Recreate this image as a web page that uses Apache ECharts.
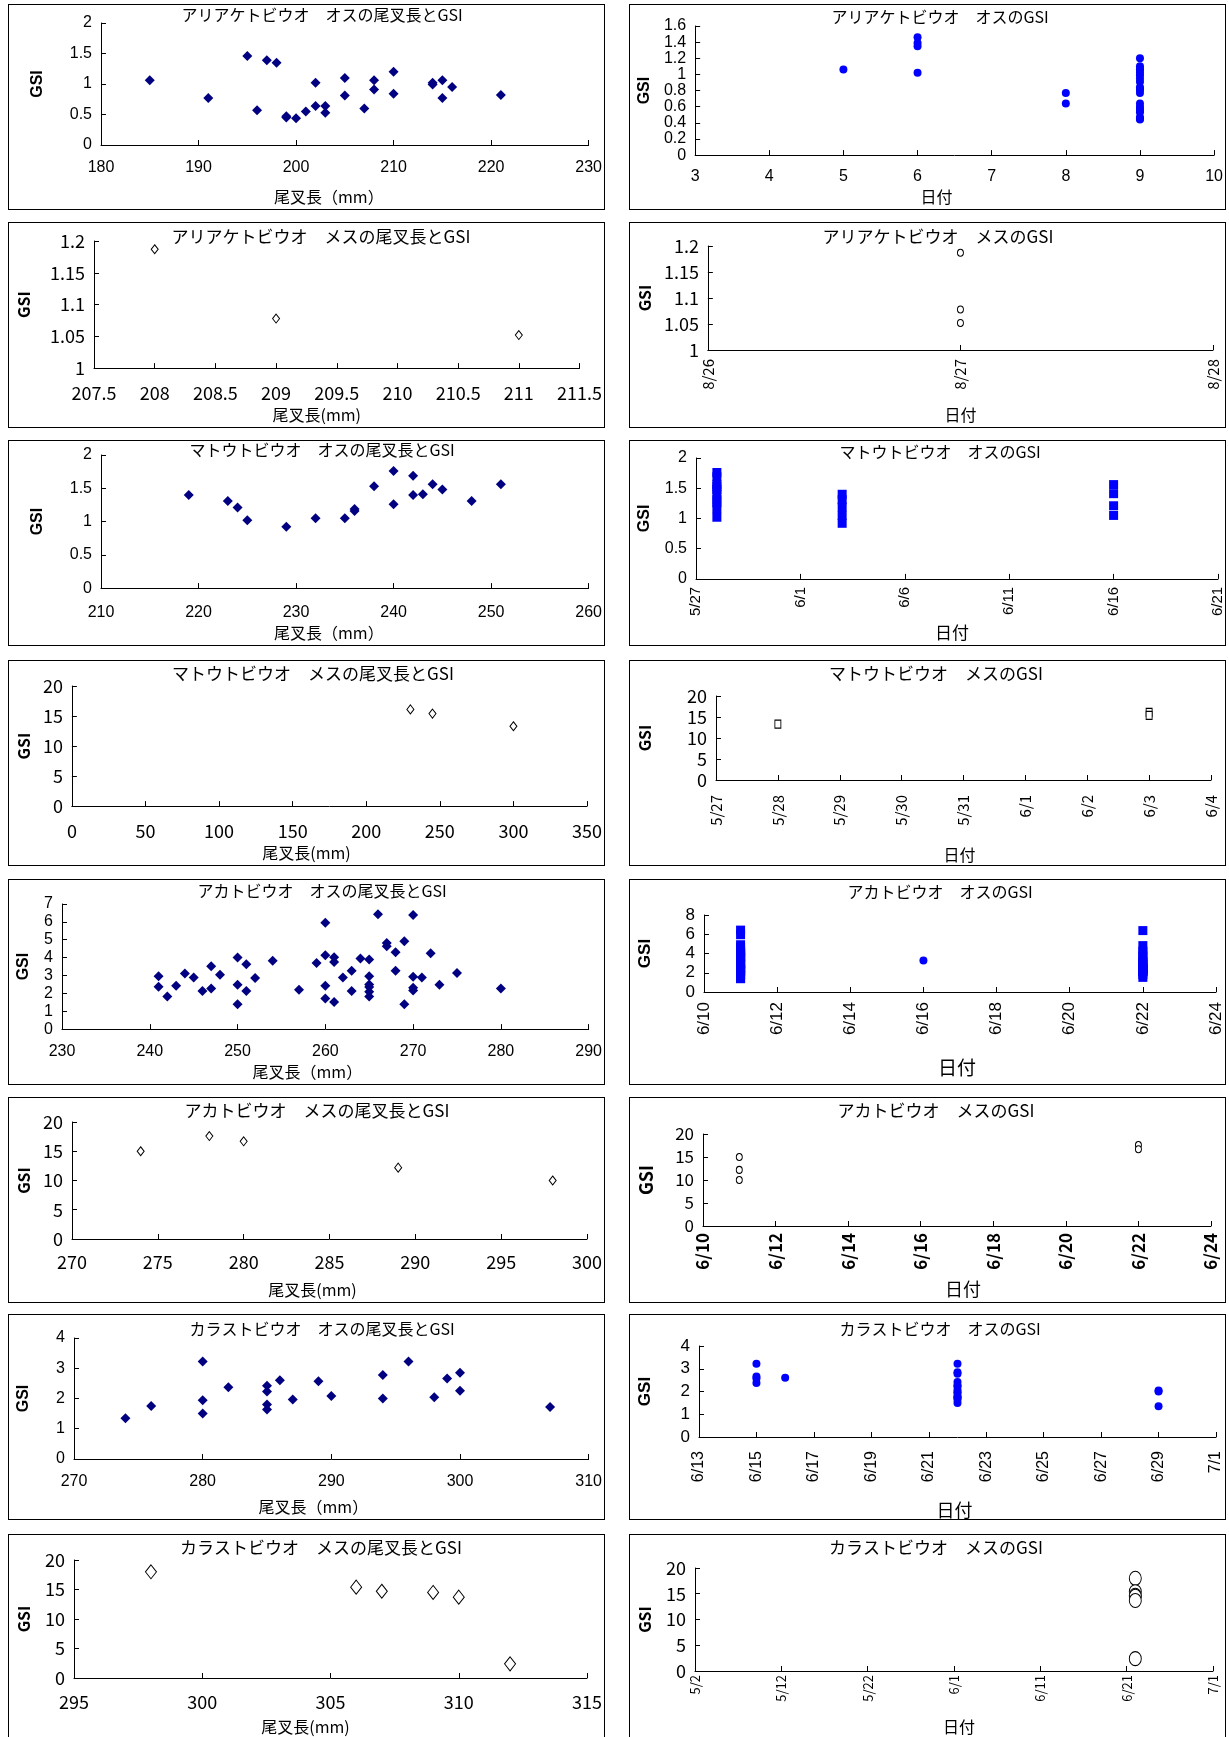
<!DOCTYPE html>
<html>
<head>
<meta charset="utf-8">
<title>トビウオ類の尾叉長とGSI</title>
<script src="https://cdn.jsdelivr.net/npm/echarts@6/dist/echarts.min.js"></script>
<style>
  html, body { margin: 0; padding: 0; background: #fff; }
  body { width: 1229px; height: 1737px; position: relative; overflow: hidden; }
  .panel { position: absolute; width: 597px; height: 206px; box-sizing: border-box; border: 1px solid #000; background: #fff; }
  .panel > div { position: absolute; left: -1px; top: -1px; width: 597px; height: 206px; }
</style>
</head>
<body>
<script>
// ---------- data ----------
// アリアケトビウオ オス
const ariakeMaleLength = [185, 191, 195, 196, 197, 198, 199, 199, 200, 201, 202, 202, 203, 203, 205, 205, 207, 208, 208, 210, 210, 214, 214, 215, 215, 216, 221];
const ariakeMaleGsi = [1.06, 0.77, 1.46, 0.57, 1.39, 1.35, 0.47, 0.45, 0.44, 0.55, 1.02, 0.64, 0.64, 0.53, 1.10, 0.81, 0.60, 1.06, 0.91, 1.20, 0.84, 1.02, 0.99, 1.06, 0.77, 0.95, 0.82];
const ariakeMaleDay = [5, 6, 6, 6, 6, 8, 8, 9, 9, 9, 9, 9, 9, 9, 9, 9, 9, 9, 9, 9, 9, 9, 9, 9, 9, 9, 9];
const ariakeMaleDayGsi = [1.06, 1.46, 1.39, 1.35, 1.02, 0.77, 0.64, 0.57, 0.47, 0.45, 0.44, 0.55, 0.64, 0.53, 1.10, 0.81, 0.60, 1.06, 0.91, 1.20, 0.84, 1.02, 0.99, 1.06, 0.77, 0.95, 0.82];

// アリアケトビウオ メス
const ariakeFemaleLength = [208, 209, 211];
const ariakeFemaleGsi = [1.187, 1.078, 1.052];
const ariakeFemaleDate = ['8/27', '8/27', '8/27'];
const ariakeFemaleDateTicks = ['8/26', '8/27', '8/28'];

// マトウトビウオ オス
const matoMaleLength = [219, 223, 224, 225, 229, 232, 235, 236, 236, 238, 240, 240, 242, 242, 243, 244, 245, 248, 251];
const matoMaleGsi = [1.40, 1.31, 1.21, 1.02, 0.92, 1.05, 1.05, 1.19, 1.16, 1.53, 1.76, 1.26, 1.69, 1.40, 1.41, 1.56, 1.48, 1.31, 1.56];
const matoMaleDate = ['5/28', '5/28', '5/28', '5/28', '5/28', '5/28', '5/28', '5/28', '5/28', '5/28',
                      '6/3', '6/3', '6/3', '6/3', '6/3', '6/16', '6/16', '6/16', '6/16'];
const matoMaleDateGsi = [1.02, 1.16, 1.26, 1.31, 1.40, 1.48, 1.53, 1.56, 1.69, 1.76,
                         0.92, 1.05, 1.19, 1.31, 1.40, 1.05, 1.21, 1.41, 1.56];
const matoMaleDateTicks = ['5/27', '6/1', '6/6', '6/11', '6/16', '6/21'];

// マトウトビウオ メス
const matoFemaleLength = [230, 245, 300];
const matoFemaleGsi = [16.1, 15.4, 13.3];
const matoFemaleDate = ['6/3', '6/3', '5/28'];
const matoFemaleDateTicks = ['5/27', '5/28', '5/29', '5/30', '5/31', '6/1', '6/2', '6/3', '6/4'];

// アカトビウオ オス
const akaMaleLength = [241, 241, 242, 243, 244, 245, 246, 247, 247, 248, 250, 250, 250, 251, 251, 252, 254, 257, 259, 260,
                       260, 260, 260, 261, 261, 261, 262, 263, 263, 264, 265, 265, 265, 265, 265, 265, 266, 267, 267, 268,
                       268, 269, 269, 270, 270, 270, 270, 271, 272, 273, 275, 280];
const akaMaleGsi = [2.96, 2.37, 1.82, 2.43, 3.11, 2.89, 2.13, 3.52, 2.27, 3.04, 4.00, 2.48, 1.39, 3.63, 2.13, 2.86, 3.82, 2.20, 3.70, 5.95,
                    4.13, 2.43, 1.71, 4.02, 3.75, 1.52, 2.89, 3.27, 2.13, 3.95, 3.89, 2.96, 2.50, 2.36, 2.09, 1.82, 6.43, 4.82, 4.64, 4.30,
                    3.27, 4.91, 1.39, 6.38, 2.93, 2.32, 2.16, 2.89, 4.25, 2.48, 3.14, 2.27];
const akaMaleDate = ['6/11', '6/11', '6/11', '6/11', '6/11', '6/11', '6/11', '6/11', '6/11', '6/11',
                     '6/11', '6/11', '6/11', '6/11', '6/11', '6/11', '6/11', '6/11', '6/11', '6/11',
                     '6/11', '6/11', '6/11', '6/11', '6/11', '6/11', '6/11', '6/11', '6/11', '6/11',
                     '6/16',
                     '6/22', '6/22', '6/22', '6/22', '6/22', '6/22', '6/22', '6/22', '6/22', '6/22',
                     '6/22', '6/22', '6/22', '6/22', '6/22', '6/22', '6/22', '6/22', '6/22', '6/22', '6/22'];
const akaMaleDateGsi = [6.43, 5.95, 4.91, 4.64, 4.30, 4.13, 4.02, 4.00, 3.95, 3.82,
                        3.70, 3.63, 3.52, 3.11, 3.04, 2.96, 2.96, 2.89, 2.86, 2.48,
                        2.43, 2.37, 2.27, 2.20, 2.13, 2.13, 1.82, 1.71, 1.39, 1.39,
                        3.27,
                        6.38, 4.82, 4.25, 3.89, 3.75, 3.27, 3.14, 2.93, 2.89, 2.89,
                        2.50, 2.48, 2.43, 2.36, 2.32, 2.27, 2.16, 2.13, 2.09, 1.82, 1.52];
const akaDateTicks = ['6/10', '6/12', '6/14', '6/16', '6/18', '6/20', '6/22', '6/24'];

// アカトビウオ メス
const akaFemaleLength = [274, 278, 280, 289, 298];
const akaFemaleGsi = [15.0, 17.6, 16.7, 12.2, 10.0];
const akaFemaleDate = ['6/11', '6/22', '6/22', '6/11', '6/11'];

// カラストビウオ オス
const karasuMaleLength = [274, 276, 280, 280, 280, 282, 285, 285, 285, 285, 286, 287, 289, 290, 294, 294, 296, 298, 299, 300, 300, 307];
const karasuMaleGsi = [1.35, 1.75, 3.22, 1.94, 1.50, 2.37, 2.42, 2.23, 1.80, 1.64, 2.60, 1.97, 2.57, 2.08, 2.78, 2.00, 3.22, 2.04, 2.66, 2.85, 2.26, 1.72];
const karasuMaleDate = ['6/15', '6/15', '6/15', '6/15', '6/16',
                        '6/22', '6/22', '6/22', '6/22', '6/22', '6/22', '6/22', '6/22', '6/22', '6/22', '6/22', '6/22', '6/22', '6/22',
                        '6/29', '6/29', '6/29'];
const karasuMaleDateGsi = [3.22, 2.66, 2.57, 2.37, 2.60,
                           3.22, 2.85, 2.78, 2.42, 2.26, 2.23, 2.08, 1.97, 1.94, 1.80, 1.75, 1.72, 1.64, 1.50,
                           2.04, 2.00, 1.35];
const karasuMaleDateTicks = ['6/13', '6/15', '6/17', '6/19', '6/21', '6/23', '6/25', '6/27', '6/29', '7/1'];

// カラストビウオ メス
const karasuFemaleLength = [298, 306, 307, 309, 310, 312];
const karasuFemaleGsi = [18.0, 15.4, 14.7, 14.5, 13.7, 2.4];
const karasuFemaleDate = ['6/22', '6/22', '6/22', '6/22', '6/22', '6/22'];
const karasuFemaleDateTicks = ['5/2', '5/12', '5/22', '6/1', '6/11', '6/21', '7/1'];

// ---------- helpers ----------
const MONTH_START = [0, 31, 59, 90, 120, 151, 181, 212, 243, 273, 304, 334];
function dayOfYear(md) {
  const [m, d] = md.split('/').map(Number);
  return MONTH_START[m - 1] + d;
}
function pairs(xs, ys) { return xs.map((x, i) => [x, ys[i]]); }
// dates become whole days after the first tick of the axis
function datePairs(dates, ys, ticks) {
  const base = dayOfYear(ticks[0]);
  return dates.map((d, i) => [dayOfYear(d) - base, ys[i]]);
}
function dateAxis(ticks) {
  const base = dayOfYear(ticks[0]);
  const step = dayOfYear(ticks[1]) - base;
  return {
    min: 0, max: dayOfYear(ticks[ticks.length - 1]) - base, interval: step,
    formatter: v => ticks[Math.round(v / step)] || ''
  };
}

const MODERN = "'Liberation Sans', Arial, 'Noto Sans CJK JP', sans-serif";
const NARROW = "'Liberation Sans Narrow', 'Arial Narrow', 'Noto Sans CJK JP', sans-serif";
const CJK = "'Noto Sans CJK JP', sans-serif";

const NAVY_DIAMOND = { symbol: 'diamond', size: [10, 10], color: '#000080' };
const BLUE_DOT = { symbol: 'circle', size: 8, color: '#0000ff' };
const BLUE_SQUARE = { symbol: 'rect', size: 9, color: '#0000ff' };
const OPEN_DIAMOND = { symbol: 'diamond', size: [7, 9], hollow: true };
const OPEN_CIRCLE = { symbol: 'circle', size: [6, 7], hollow: true };
const OPEN_SQUARE = { symbol: 'rect', size: [6, 8], hollow: true };

// ---------- panel layouts ----------
const LEFT = 8, RIGHT = 629, ROWS = [4, 222, 440, 660, 879, 1097, 1314, 1534];

const panels = [
  { x: LEFT, y: ROWS[0], style: 'modern', title: 'アリアケトビウオ　オスの尾叉長とGSI', tx: 314, ty: 3,
    grid: [93, 14, 19, 62], xAxis: { min: 180, max: 230, interval: 10 }, yAxis: { min: 0, max: 2, interval: 0.5 },
    xName: '尾叉長（mm）', xGap: 44, xShift: -16, yGap: 55, xMargin: 15,
    data: pairs(ariakeMaleLength, ariakeMaleGsi), mark: NAVY_DIAMOND },
  { x: RIGHT, y: ROWS[0], style: 'modern', title: 'アリアケトビウオ　オスのGSI', tx: 311, ty: 5,
    grid: [53, 10, 22, 42], xAxis: { min: 3, max: 10, interval: 1 }, yAxis: { min: 0, max: 1.6, interval: 0.2 },
    xName: '日付', xNameSize: 16, xGap: 23, xShift: -18, yGap: 33, xMargin: 13,
    data: pairs(ariakeMaleDay, ariakeMaleDayGsi), mark: BLUE_DOT },

  { x: LEFT, y: ROWS[1], style: 'narrow', title: 'アリアケトビウオ　メスの尾叉長とGSI', tx: 313, ty: 6,
    grid: [83, 21, 19, 53], xAxis: { min: 207.5, max: 211.5, interval: 0.5 }, yAxis: { min: 1, max: 1.2, interval: 0.05 },
    xName: '尾叉長(mm)', xGap: 34, xShift: -20, yGap: 62, xMargin: 16,
    data: pairs(ariakeFemaleLength, ariakeFemaleGsi), mark: OPEN_DIAMOND },
  { x: RIGHT, y: ROWS[1], style: 'narrow', title: 'アリアケトビウオ　メスのGSI', tx: 309, ty: 6,
    grid: [67, 13, 24, 76], dates: ariakeFemaleDateTicks, yAxis: { min: 1, max: 1.2, interval: 0.05 },
    xName: '日付', xGap: 57, xShift: 0, yGap: 50, xMargin: 9,
    data: datePairs(ariakeFemaleDate, ariakeFemaleGsi, ariakeFemaleDateTicks), mark: OPEN_CIRCLE },

  { x: LEFT, y: ROWS[2], style: 'modern', title: 'マトウトビウオ　オスの尾叉長とGSI', tx: 314, ty: 2,
    grid: [93, 14, 15, 53], xAxis: { min: 210, max: 260, interval: 10 }, yAxis: { min: 0, max: 2, interval: 0.5 },
    xName: '尾叉長（mm）', xGap: 35, xShift: -16, yGap: 55, xMargin: 16,
    data: pairs(matoMaleLength, matoMaleGsi), mark: NAVY_DIAMOND },
  { x: RIGHT, y: ROWS[2], style: 'modern', title: 'マトウトビウオ　オスのGSI', tx: 311, ty: 4,
    grid: [63, 8, 18, 57], dates: matoMaleDateTicks, yAxis: { min: 0, max: 2, interval: 0.5 },
    xName: '日付', xNameSize: 17, xGap: 38, xShift: -5, yGap: 43, xMargin: 8, dateSize: 15,
    data: datePairs(matoMaleDate, matoMaleDateGsi, matoMaleDateTicks), mark: BLUE_SQUARE },

  { x: LEFT, y: ROWS[3], style: 'narrow', title: 'マトウトビウオ　メスの尾叉長とGSI', tx: 305, ty: 5,
    grid: [60, 14, 26, 52], xAxis: { min: 0, max: 350, interval: 50 }, yAxis: { min: 0, max: 20, interval: 5 },
    xName: '尾叉長(mm)', xGap: 35, xShift: -23, yGap: 39, xMargin: 16,
    data: pairs(matoFemaleLength, matoFemaleGsi), mark: OPEN_DIAMOND },
  { x: RIGHT, y: ROWS[3], style: 'narrow', title: 'マトウトビウオ　メスのGSI', tx: 307, ty: 5,
    grid: [80, 15, 36, 86], dates: matoFemaleDateTicks, yAxis: { min: 0, max: 20, interval: 5 },
    xName: '日付', xGap: 67, xShift: -4, yGap: 63, xMargin: 15,
    data: datePairs(matoFemaleDate, matoFemaleGsi, matoFemaleDateTicks), mark: OPEN_SQUARE },

  { x: LEFT, y: ROWS[4], style: 'modern', title: 'アカトビウオ　オスの尾叉長とGSI', tx: 314, ty: 4,
    grid: [49, 14, 25, 50], xAxis: { min: 230, max: 290, interval: 10 }, yAxis: { min: 0, max: 7, interval: 1 },
    xName: '尾叉長（mm）', xGap: 31, xShift: -18, yGap: 30, xMargin: 14,
    data: pairs(akaMaleLength, akaMaleGsi), mark: NAVY_DIAMOND },
  { x: RIGHT, y: ROWS[4], style: 'modern', title: 'アカトビウオ　オスのGSI', tx: 311, ty: 5,
    grid: [74, 10, 36, 93], dates: akaDateTicks, yAxis: { min: 0, max: 8, interval: 2 },
    xName: '日付', xNameSize: 19, xGap: 66, xShift: -3, yGap: 50, yNameSize: 17, xMargin: 10, dateSize: 17, ySize: 17,
    data: datePairs(akaMaleDate, akaMaleDateGsi, akaDateTicks), mark: BLUE_SQUARE,
    markFor: d => (d === '6/16' ? 'circle' : 'rect'), markDates: akaMaleDate },

  { x: LEFT, y: ROWS[5], style: 'narrow', title: 'アカトビウオ　メスの尾叉長とGSI', tx: 309, ty: 5,
    grid: [61, 16, 25, 61], xAxis: { min: 270, max: 300, interval: 5 }, yAxis: { min: 0, max: 20, interval: 5 },
    xName: '尾叉長(mm)', xGap: 43, xShift: -17, yGap: 40, xMargin: 14,
    data: pairs(akaFemaleLength, akaFemaleGsi), mark: OPEN_DIAMOND },
  { x: RIGHT, y: ROWS[5], style: 'narrow', title: 'アカトビウオ　メスのGSI', tx: 307, ty: 5,
    grid: [67, 15, 37, 77], dates: akaDateTicks, yAxis: { min: 0, max: 20, interval: 5 },
    xName: '日付', xNameSize: 18, xGap: 54, xShift: 6, yGap: 48, yNameSize: 18, xMargin: 7, dateBold: true, dateSize: 17, ySize: 17,
    data: datePairs(akaFemaleDate, akaFemaleGsi, akaDateTicks), mark: OPEN_CIRCLE },

  { x: LEFT, y: ROWS[6], style: 'modern', title: 'カラストビウオ　オスの尾叉長とGSI', tx: 314, ty: 7,
    grid: [65, 14, 24, 57], xAxis: { min: 270, max: 310, interval: 10 }, yAxis: { min: 0, max: 4, interval: 1 },
    xName: '尾叉長（mm）', xGap: 40, xShift: -18, yGap: 42, xMargin: 15,
    data: pairs(karasuMaleLength, karasuMaleGsi), mark: NAVY_DIAMOND },
  { x: RIGHT, y: ROWS[6], style: 'modern', title: 'カラストビウオ　オスのGSI', tx: 311, ty: 7,
    grid: [69, 10, 32, 82], dates: karasuMaleDateTicks, yAxis: { min: 0, max: 4, interval: 1 },
    xName: '日付', xNameSize: 18, xGap: 64, xShift: -3, yGap: 45, yNameSize: 17, xMargin: 14, dateSize: 16, ySize: 17,
    data: datePairs(karasuMaleDate, karasuMaleDateGsi, karasuMaleDateTicks), mark: BLUE_DOT },

  { x: LEFT, y: ROWS[7], style: 'narrow', title: 'カラストビウオ　メスの尾叉長とGSI', tx: 313, ty: 5,
    grid: [63, 14, 26, 59], xAxis: { min: 295, max: 315, interval: 5 }, yAxis: { min: 0, max: 20, interval: 5 },
    xName: '尾叉長(mm)', xGap: 41, xShift: -25, yGap: 42, xMargin: 15,
    data: pairs(karasuFemaleLength, karasuFemaleGsi), mark: { symbol: 'diamond', size: [11, 14], hollow: true } },
  { x: RIGHT, y: ROWS[7], style: 'narrow', title: 'カラストビウオ　メスのGSI', tx: 307, ty: 5,
    grid: [59, 13, 34, 66], dates: karasuFemaleDateTicks, yAxis: { min: 0, max: 20, interval: 5 },
    xName: '日付', xGap: 48, xShift: 5, yGap: 42, xMargin: 4, dateSize: 13,
    data: datePairs(karasuFemaleDate, karasuFemaleGsi, karasuFemaleDateTicks), mark: { symbol: 'circle', size: [12, 14], hollow: true } }
];

// ---------- drawing ----------
function buildOption(p) {
  const narrow = p.style === 'narrow';
  const labelFont = narrow ? NARROW : MODERN;
  const tickSize = narrow ? 18 : 16;
  const axisLine = { show: true, onZero: false, lineStyle: { color: '#000', width: 1 } };
  const axisTick = { show: true, inside: true, length: 5, lineStyle: { color: '#000', width: 1 } };

  let xAxis;
  if (p.dates) {
    const d = dateAxis(p.dates);
    xAxis = {
      type: 'value', min: d.min, max: d.max, interval: d.interval,
      axisLabel: { rotate: 90, formatter: d.formatter, color: '#000', fontFamily: labelFont,
                   fontSize: p.dateSize || 15, fontWeight: p.dateBold ? 'bold' : 'normal',
                   margin: p.xMargin, showMinLabel: true, showMaxLabel: true, hideOverlap: false }
    };
  } else {
    xAxis = {
      type: 'value', min: p.xAxis.min, max: p.xAxis.max, interval: p.xAxis.interval,
      axisLabel: { color: '#000', fontFamily: labelFont, fontSize: tickSize, margin: p.xMargin,
                   showMinLabel: true, showMaxLabel: true, hideOverlap: false }
    };
  }
  const xNameSize = p.xNameSize || 16;
  const pad = p.xShift < 0 ? [0, -2 * p.xShift, 0, 0] : [0, 0, 0, 2 * p.xShift];
  Object.assign(xAxis, {
    name: p.xName, nameLocation: 'middle', nameGap: p.xGap,
    nameTextStyle: { color: '#000', fontFamily: narrow ? NARROW : CJK, fontSize: xNameSize, padding: pad },
    axisLine, axisTick, splitLine: { show: false }
  });

  const yNameSize = p.yNameSize || 16;
  const yAxis = {
    type: 'value', min: p.yAxis.min, max: p.yAxis.max, interval: p.yAxis.interval,
    name: 'GSI', nameLocation: 'middle', nameRotate: 90, nameGap: p.yGap,
    nameTextStyle: { color: '#000', fontFamily: labelFont, fontSize: yNameSize, fontWeight: 'bold' },
    axisLabel: { color: '#000', fontFamily: labelFont, fontSize: p.ySize || tickSize, margin: 9,
                 showMinLabel: true, showMaxLabel: true, hideOverlap: false },
    axisLine, axisTick, splitLine: { show: false }
  };

  const m = p.mark;
  const itemStyle = m.hollow
    ? { color: '#fff', borderColor: '#000', borderWidth: 1, opacity: 1 }
    : { color: m.color, opacity: 1 };
  const data = p.markFor
    ? p.data.map((v, i) => {
        const shape = p.markFor(p.markDates[i]);
        return { value: v, symbol: shape, symbolSize: shape === 'circle' ? 8 : m.size };
      })
    : p.data;

  return {
    backgroundColor: 'transparent',
    animation: false,
    title: {
      text: p.title, left: p.tx, top: p.ty, textAlign: 'center', padding: 0,
      textStyle: { color: '#000', fontFamily: CJK, fontWeight: 'normal', fontSize: narrow ? 17 : 16 }
    },
    grid: { left: p.grid[0], right: p.grid[1], top: p.grid[2], bottom: p.grid[3], containLabel: false },
    xAxis, yAxis,
    series: [{
      type: 'scatter', silent: true, symbol: m.symbol, symbolSize: m.size,
      itemStyle, emphasis: { disabled: true }, data
    }]
  };
}

panels.forEach(p => {
  const box = document.createElement('div');
  box.className = 'panel';
  box.style.left = p.x + 'px';
  box.style.top = p.y + 'px';
  const inner = document.createElement('div');
  box.appendChild(inner);
  document.body.appendChild(box);
  const chart = echarts.init(inner, null, { renderer: 'canvas', width: 597, height: 206 });
  chart.setOption(buildOption(p));
});
</script>
</body>
</html>
